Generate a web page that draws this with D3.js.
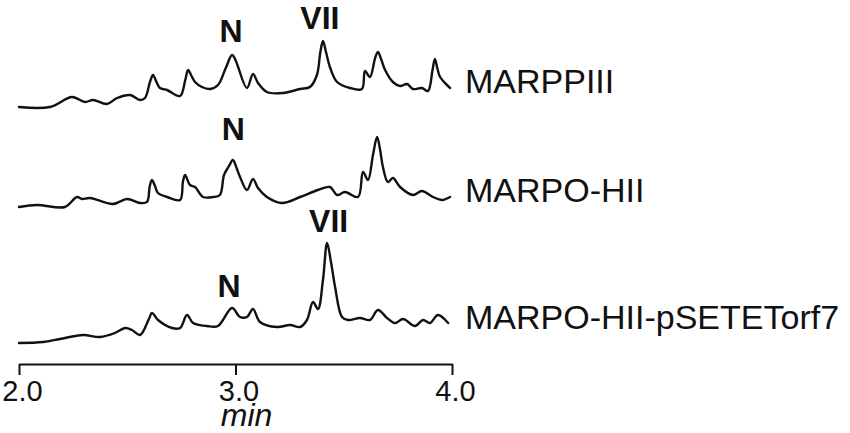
<!DOCTYPE html>
<html><head><meta charset="utf-8">
<script src="https://cdn.jsdelivr.net/npm/d3@7"></script>
<style>
html,body{margin:0;padding:0;background:#fff;}
svg{display:block;}
text{font-family:"Liberation Sans",Arial,Helvetica,sans-serif;fill:#111;}
</style></head>
<body>
<svg id="chart" width="850" height="433"></svg>
<script>
// ---- data (time in min, intensity in arbitrary units) ----
const seriesNames = ["MARPPIII", "MARPO-HII", "MARPO-HII-pSETETorf7"];
const xTicks = [2.0, 3.0, 4.0];
const xLabel = "min";

const traceMARPPIII = [
 [2.000,3],[2.143,3],[2.245,13],[2.305,8],[2.342,10],[2.406,6],[2.453,12],[2.513,15],[2.559,10],[2.582,12],
 [2.605,28],[2.619,35],[2.635,28],[2.651,22],[2.684,20],[2.744,14],[2.768,30],[2.781,40],[2.797,34],[2.813,28],[2.845,23],[2.882,21],[2.919,25],
 [2.955,42],[2.984,55],[3.000,50],[3.012,43],[3.053,22],[3.081,36],[3.104,27],[3.145,18],[3.219,17],[3.298,21],[3.344,23],
 [3.376,35],[3.392,58],[3.404,69],[3.418,58],[3.436,43],[3.469,28],[3.529,22],[3.584,21],[3.598,39],[3.621,33],
 [3.645,52],[3.658,58],[3.674,50],[3.691,40],[3.727,28],[3.760,24],[3.792,26],[3.820,21],[3.861,22],[3.889,19],
 [3.910,40],[3.921,51],[3.932,42],[3.945,33],[3.991,22]
];
const traceMARPOHII = [
 [2.000,3],[2.083,5],[2.212,3],[2.268,13],[2.291,11],[2.328,12],[2.434,6],[2.499,11],[2.559,7],[2.591,8],
 [2.604,24],[2.614,30],[2.628,24],[2.642,17],[2.684,13],[2.744,10],[2.757,28],[2.767,35],[2.790,25],[2.813,23],[2.850,13],[2.896,13],[2.928,15],
 [2.947,35],[2.970,44],[2.988,50],[3.005,42],[3.021,33],[3.053,20],[3.081,31],[3.104,22],[3.145,13],[3.215,7],[3.298,13],
 [3.381,20],[3.436,23],[3.469,15],[3.506,18],[3.566,13],[3.589,38],[3.612,30],[3.635,55],[3.654,73],[3.668,60],[3.681,43],[3.704,28],
 [3.727,32],[3.760,23],[3.820,15],[3.861,19],[3.912,13],[3.954,10],[3.991,13]
];
const traceMARPOHIIpSETETorf7 = [
 [2.000,2],[2.111,3],[2.189,6],[2.296,10],[2.374,8],[2.443,12],[2.490,17],[2.522,15],[2.559,10],
 [2.600,26],[2.614,32],[2.642,25],[2.707,17],[2.744,17],[2.776,30],[2.804,22],[2.868,19],[2.919,19],
 [2.984,37],[3.021,28],[3.053,28],[3.081,36],[3.113,23],[3.192,18],[3.252,20],[3.298,18],[3.330,25],
 [3.358,43],[3.381,36],[3.404,65],[3.423,102],[3.441,83],[3.460,58],[3.492,28],[3.520,25],[3.575,27],[3.621,25],
 [3.658,35],[3.700,27],[3.737,22],[3.774,26],[3.829,19],[3.866,25],[3.898,22],[3.935,30],[3.982,22]
];
const peakLabels = [
 {series:0, text:"N", t:2.98, h:68},
 {series:0, text:"VII", t:3.39, h:81},
 {series:1, text:"N", t:2.99, h:70},
 {series:2, text:"N", t:2.97, h:48},
 {series:2, text:"VII", t:3.43, h:113}
];

// ---- layout ----
const traces = [traceMARPPIII, traceMARPOHII, traceMARPOHIIpSETETorf7];
const baselines = [110, 210, 345];
const nameBaselines = [93, 202, 329];
const svg = d3.select("#chart");
const x = d3.scaleLinear().domain([2, 4]).range([19, 452]);
const yScales = baselines.map(b => d3.scaleLinear().domain([0, 100]).range([b, b - 100]));

traces.forEach((tr, i) => {
  const line = d3.line().x(d => x(d[0])).y(d => yScales[i](d[1])).curve(d3.curveCatmullRom.alpha(0.5));
  svg.append("path").datum(tr).attr("d", line)
    .attr("fill", "none").attr("stroke", "#111").attr("stroke-width", 2.4)
    .attr("stroke-linejoin", "round").attr("stroke-linecap", "round");
  svg.append("text").attr("x", 465).attr("y", nameBaselines[i])
    .attr("font-size", 34).text(seriesNames[i]);
});

peakLabels.forEach(p => {
  svg.append("text").attr("x", x(p.t)).attr("y", yScales[p.series](p.h))
    .attr("text-anchor", "middle").attr("font-size", 32).attr("font-weight", "bold")
    .text(p.text);
});

// ---- axis ----
const axis = d3.axisBottom(x).tickValues(xTicks).tickFormat(d3.format(".1f"))
  .tickSize(11).tickSizeOuter(0).tickPadding(5);
const g = svg.append("g").attr("transform", "translate(0,364)").call(axis);
g.select(".domain").attr("stroke", "#111").attr("stroke-width", 2);
g.selectAll(".tick line").attr("stroke", "#111").attr("stroke-width", 2);
g.selectAll(".tick text").attr("font-size", 29).attr("fill", "#111")
  .attr("font-family", "'Liberation Sans',Arial,sans-serif").attr("dx", 3);

svg.append("text").attr("x", x(3) + 11).attr("y", 426).attr("text-anchor", "middle")
  .attr("font-size", 32).attr("font-style", "italic").text(xLabel);
</script>
</body></html>
